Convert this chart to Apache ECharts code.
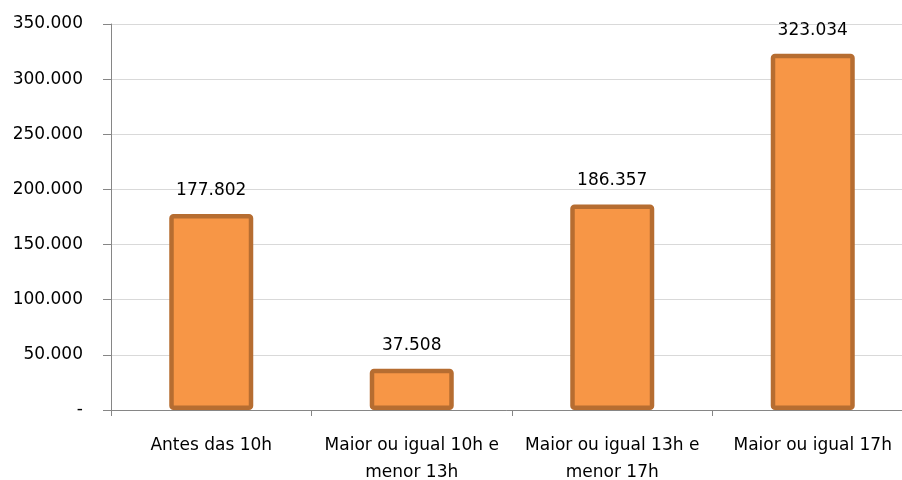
<!DOCTYPE html>
<html>
<head>
<meta charset="utf-8">
<script src="https://cdn.jsdelivr.net/npm/echarts@6/dist/echarts.min.js"></script>
<style>html,body{margin:0;padding:0;background:#fff;}#c{width:902px;height:480px;}</style>
</head>
<body>
<div id="c"></div>
<script>
const categories = ["Antes das 10h", "Maior ou igual 10h e\nmenor 13h", "Maior ou igual 13h e\nmenor 17h", "Maior ou igual 17h"];
const values = [177802, 37508, 186357, 323034];
const yTicks = [0, 50000, 100000, 150000, 200000, 250000, 300000, 350000];

function fmt(v) {
  if (v === 0) return '-';
  return String(Math.round(v)).replace(/\B(?=(\d{3})+(?!\d))/g, '.');
}

const chart = echarts.init(document.getElementById('c'));
chart.setOption({
  animation: false,
  backgroundColor: '#ffffff',
  grid: { left: 111, width: 802, top: 24, bottom: 70, containLabel: false, outerBoundsMode: 'none' },
  xAxis: {
    type: 'category',
    data: categories,
    axisLine: { lineStyle: { color: '#868686', width: 1 } },
    axisTick: { show: true, length: 6, lineStyle: { color: '#868686' } },
    axisLabel: { color: '#000', fontFamily: 'DejaVu Sans', fontSize: 17, margin: 22, lineHeight: 27, interval: 0 }
  },
  yAxis: {
    type: 'value',
    min: yTicks[0],
    max: yTicks[yTicks.length - 1],
    interval: 50000,
    axisLine: { show: true, lineStyle: { color: '#868686', width: 1 } },
    axisTick: { show: true, length: 8, lineStyle: { color: '#868686' } },
    splitLine: { show: true, lineStyle: { color: '#d9d9d9', width: 1 } },
    axisLabel: { color: '#000', fontFamily: 'DejaVu Sans', fontSize: 17, margin: 28, formatter: fmt }
  },
  series: [{
    type: 'bar',
    data: values,
    barWidth: 84,
    itemStyle: { color: '#f79646', borderColor: '#b66d31', borderWidth: 4.5, borderRadius: 2 },
    label: { show: true, position: 'top', distance: 15, color: '#000', fontFamily: 'DejaVu Sans', fontSize: 17, formatter: p => fmt(p.value) }
  }]
});
</script>
</body>
</html>
